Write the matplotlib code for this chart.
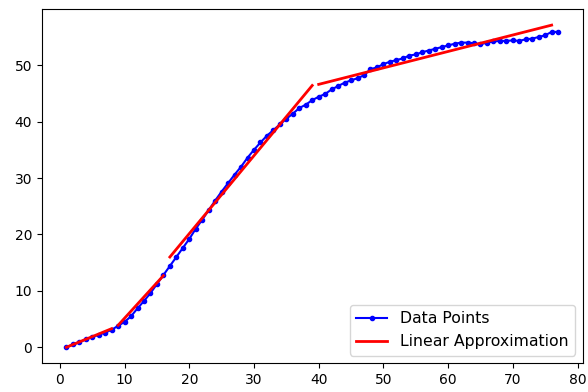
import numpy as np
from matplotlib import pyplot as plt

# measured curve, one value per step
x = np.arange(1, 78)
y = [0.0, 0.5, 0.9, 1.4, 1.8, 2.2, 2.6, 3.1, 3.8, 4.5,
     5.5, 6.9, 8.2, 9.6, 11.2, 12.8, 14.4, 16.0, 17.6, 19.2,
     21.0, 22.6, 24.3, 26.0, 27.6, 29.1, 30.6, 32.0, 33.6, 35.0,
     36.3, 37.5, 38.5, 39.5, 40.5, 41.4, 42.4, 43.0, 43.8, 44.4,
     44.9, 45.7, 46.3, 46.9, 47.3, 47.7, 48.2, 49.3, 49.6, 50.2,
     50.6, 50.9, 51.2, 51.7, 51.9, 52.3, 52.6, 52.9, 53.2, 53.5,
     53.8, 54.0, 54.0, 53.9, 53.7, 54.0, 54.2, 54.3, 54.3, 54.4,
     54.3, 54.6, 54.7, 55.0, 55.3, 55.9, 55.9]

# piecewise linear approximation: (x_start, x_end), (y_start, y_end)
seg_x = [(1, 8), (9, 16), (17, 39), (40, 76)]
seg_y = [(0.0, 3.3), (3.9, 12.7), (16.0, 46.4), (46.6, 57.1)]

fig = plt.figure(figsize=(5.88, 3.92), dpi=100)
ax = fig.add_axes([0.071, 0.073, 0.92, 0.904])

ax.plot(x, y, 'b.-', label='Data Points')
for i, (sx, sy) in enumerate(zip(seg_x, seg_y)):
    ax.plot(sx, sy, 'r-', linewidth=2, label='Linear Approximation' if i == 0 else None)

ax.legend(loc='lower right', fontsize=11.3)
plt.savefig('out.png', dpi=100)
